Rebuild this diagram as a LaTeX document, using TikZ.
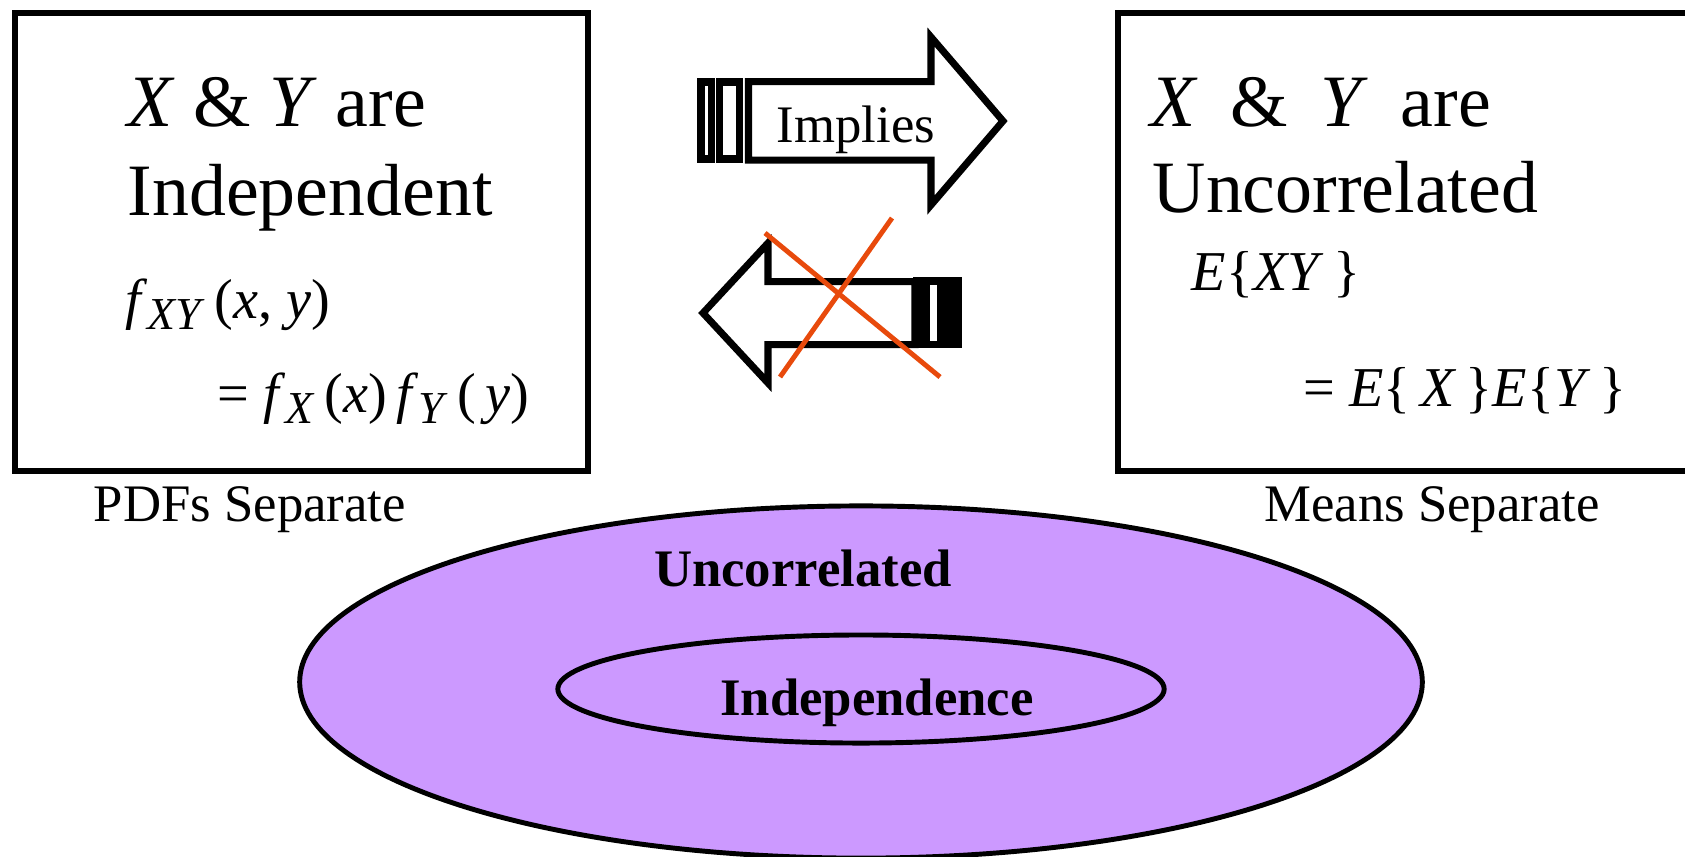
\documentclass[tikz,border=0pt]{standalone}
\usepackage{fontspec}
\setmainfont{Liberation Serif}
\usetikzlibrary{shapes.geometric}

\definecolor{lilac}{RGB}{204,153,255}
\definecolor{crossred}{RGB}{232,74,12}
\newcommand{\sbs}[1]{\raisebox{-0.45ex}{\fontsize{13}{13}\selectfont\textit{#1}}}

\tikzset{
  box/.style={draw, line width=1.5pt},
  bigtext/.style={anchor=base west, inner sep=0pt, font=\fontsize{21}{25}\selectfont},
  eqtext/.style={anchor=base west, inner sep=0pt, font=\fontsize{16}{19}\selectfont},
  caption/.style={anchor=base, inner sep=0pt, font=\fontsize{15}{18}\selectfont},
  setlabel/.style={anchor=base, inner sep=0pt, font=\fontsize{15}{18}\selectfont\bfseries},
  setring/.style={ellipse, draw, fill=lilac, line width=1.4pt, inner sep=0pt},
  arrowline/.style={draw, line width=2pt, line join=miter, fill=white},
  crossline/.style={draw=crossred, line width=1.4pt},
}

\begin{document}
\begin{tikzpicture}[x=0.01cm,y=-0.01cm]
  \useasboundingbox (0,0) rectangle (1685,856);
  \clip (0,0) rectangle (1685,856);

  % the two boxes
  \draw[box] (15,13) rectangle (588,471);
  \draw[box] (1118,13) rectangle (1700,471);

  \node[bigtext] (indepa) at (127,126) {\textit{X} \& \textit{Y} are};
  \node[bigtext] (indepb) at (127,215) {Independent};
  \node[eqtext] (pdfa) at (125,318) {\textit{f}\sbs{XY}\,(\textit{x}, \textit{y})};
  \node[eqtext] (pdfb) at (217,412) {= \textit{f}\sbs{X}\,(\textit{x})\,\textit{f}\sbs{Y}\,(\,\textit{y})};

  \node[bigtext] (uncora) at (1150,126) {\textit{X}\hspace{4pt} \&\hspace{4pt} \textit{Y}\hspace{4pt} are};
  \node[bigtext] (uncorb) at (1152,212) {Uncorrelated};
  \node[eqtext] (meana) at (1191,290) {\textit{E}\{\textit{XY}\,\}};
  \node[eqtext] (meanb) at (1303,406) {= \textit{E}\{\,\textit{X}\,\}\textit{E}\{\textit{Y}\,\}};

  \node[caption] (pdfsep) at (250,521) {PDFs Separate};
  \node[caption] (meansep) at (1432,521) {Means Separate};

  % implies arrow
  \path[arrowline] (748.5,81.5) -- (931,81.5) -- (931,37) -- (1003,121)
    -- (931,205) -- (931,160) -- (748.5,160) -- cycle;
  \fill (697,78) rectangle (715,163);
  \fill[white] (705,86) rectangle (708,155);
  \fill (716,78) rectangle (743,163);
  \fill[white] (723,86) rectangle (736,155);
  \node[caption] (implies) at (856,142) {Implies};

  % converse arrow, crossed out
  \path[arrowline] (915,281.5) -- (768,281.5) -- (768,243) -- (703,313)
    -- (768,383) -- (768,344.5) -- (915,344.5) -- cycle;
  \fill (913,277) rectangle (962,348);
  \fill[white] (930,285) rectangle (937,341);
  \draw[crossline] (765,233) -- (940,377);
  \draw[crossline] (892,218) -- (780,377);

  % sets
  \node[setring, minimum width=11.22cm, minimum height=3.52cm] (uncorset) at (861,682) {};
  \node[setring, minimum width=6.06cm, minimum height=1.08cm] (indepset) at (861,689) {};
  \node[setlabel] (uncorlabel) at (803,586) {Uncorrelated};
  \node[setlabel] (indeplabel) at (877,715) {Independence};
\end{tikzpicture}
\end{document}
